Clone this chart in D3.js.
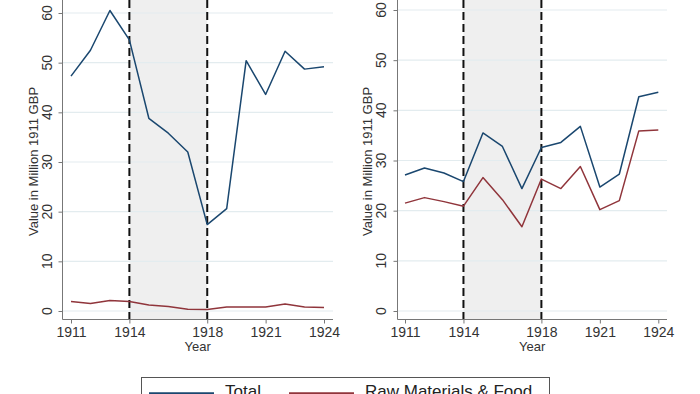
<!DOCTYPE html>
<html>
<head>
<meta charset="utf-8">
<script src="https://cdn.jsdelivr.net/npm/d3@7"></script>
<style>
  body { margin: 0; background: #fff; }
  svg { display: block; font-family: "Liberation Sans", Arial, sans-serif; }
</style>
</head>
<body>
<div id="chart"></div>
<script>
// --- Data ---
const years = [1911, 1912, 1913, 1914, 1915, 1916, 1917, 1918, 1919, 1920, 1921, 1922, 1923, 1924];
const leftTotal = [47.3, 52.5, 60.5, 54.6, 38.8, 35.8, 32.0, 17.4, 20.6, 50.4, 43.6, 52.3, 48.7, 49.2];
const leftRaw = [1.9, 1.5, 2.1, 1.9, 1.2, 0.9, 0.35, 0.3, 0.8, 0.8, 0.8, 1.4, 0.8, 0.7];
const rightTotal = [27.1, 28.5, 27.5, 25.8, 35.5, 32.8, 24.4, 32.6, 33.6, 36.8, 24.7, 27.3, 42.7, 43.6];
const rightRaw = [21.5, 22.6, 21.8, 20.9, 26.6, 22.2, 16.8, 26.3, 24.4, 28.8, 20.2, 22.0, 35.9, 36.1];
const yTicks = [0, 10, 20, 30, 40, 50, 60];
const xTicks = [1911, 1914, 1918, 1921, 1924];
const warPeriod = [1914, 1918];
const seriesNames = ["Total", "Raw Materials & Food"];
const colors = ["#1a476f", "#90353b"];

const width = 700, height = 394;

const svg = d3.select("#chart").append("svg")
    .attr("width", width)
    .attr("height", height);

// panel layout
const panels = [
  { axisX: 62.5, x0: 71, x1: 324, right: 333, y0: 311, y60: 13, titleX: 33, tickLabX: 47, total: leftTotal, raw: leftRaw },
  { axisX: 397.5, x0: 405, x1: 658.3, right: 667, y0: 311, y60: 10, titleX: 367, tickLabX: 381, total: rightTotal, raw: rightRaw }
];
const axisY = 319.5;

panels.forEach(p => {
  const x = d3.scaleLinear().domain([1911, 1924]).range([p.x0, p.x1]);
  const y = d3.scaleLinear().domain([0, 60]).range([p.y0, p.y60]);
  const g = svg.append("g");

  // shaded war period
  g.append("rect")
    .attr("x", x(warPeriod[0]))
    .attr("y", 0)
    .attr("width", x(warPeriod[1]) - x(warPeriod[0]))
    .attr("height", axisY)
    .attr("fill", "#efefef");

  // gridlines
  g.selectAll(".grid")
    .data(yTicks)
    .enter()
    .append("line")
    .attr("x1", p.axisX)
    .attr("x2", p.right)
    .attr("y1", d => y(d))
    .attr("y2", d => y(d))
    .attr("stroke", "#e3ecef")
    .attr("stroke-width", 1.2);

  // dashed vertical lines
  g.selectAll(".war")
    .data(warPeriod)
    .enter()
    .append("line")
    .attr("x1", d => x(d))
    .attr("x2", d => x(d))
    .attr("y1", 0)
    .attr("y2", axisY)
    .attr("stroke", "#111")
    .attr("stroke-width", 2)
    .attr("stroke-dasharray", "8,4");

  // series lines
  const line = d3.line().x((d, i) => x(years[i])).y(d => y(d));
  [p.total, p.raw].forEach((vals, k) => {
    g.append("path")
      .datum(vals)
      .attr("d", line)
      .attr("fill", "none")
      .attr("stroke", colors[k])
      .attr("stroke-width", 1.5)
      .attr("stroke-linejoin", "round");
  });

  // y axis
  const yAxis = g.append("g")
    .attr("transform", `translate(${p.axisX},0)`)
    .call(d3.axisLeft(y).tickValues(yTicks).tickSize(4).tickPadding(0).tickFormat(d3.format("d")));
  yAxis.select(".domain").remove();
  yAxis.selectAll(".tick line").attr("stroke", "#777");
  yAxis.selectAll(".tick text").remove();
  yAxis.append("line")
    .attr("x1", 0).attr("x2", 0)
    .attr("y1", 0).attr("y2", axisY)
    .attr("stroke", "#777");

  // rotated y tick labels
  g.selectAll(".ylab")
    .data(yTicks)
    .enter()
    .append("text")
    .attr("transform", d => `translate(${p.tickLabX},${y(d)}) rotate(-90)`)
    .attr("text-anchor", "middle")
    .attr("dy", "0.35em")
    .attr("font-size", "14px")
    .attr("fill", "#333")
    .text(d => d);

  // x axis
  const xAxis = g.append("g")
    .attr("transform", `translate(0,${axisY})`)
    .call(d3.axisBottom(x).tickValues(xTicks).tickSize(4).tickPadding(4).tickFormat(d3.format("d")));
  xAxis.select(".domain").remove();
  xAxis.append("line")
    .attr("x1", p.axisX).attr("x2", p.right)
    .attr("stroke", "#777");
  xAxis.selectAll(".tick line").attr("stroke", "#777");
  xAxis.selectAll(".tick text")
    .attr("font-size", "14px")
    .attr("fill", "#333")
    .attr("font-family", "Liberation Sans, Arial, sans-serif");

  // axis titles
  g.append("text")
    .attr("transform", `translate(${p.titleX},${161.5}) rotate(-90)`)
    .attr("text-anchor", "middle")
    .attr("dy", "0.35em")
    .attr("font-size", "13px")
    .attr("fill", "#333")
    .text("Value in Million 1911 GBP");

  g.append("text")
    .attr("x", (p.axisX + p.right) / 2)
    .attr("y", 351)
    .attr("text-anchor", "middle")
    .attr("font-size", "13px")
    .attr("fill", "#333")
    .text("Year");
});

// --- Legend ---
const legend = svg.append("g");
legend.append("rect")
  .attr("x", 141.5).attr("y", 377.5)
  .attr("width", 408).attr("height", 40)
  .attr("fill", "#fff")
  .attr("stroke", "#555");

const legendItems = [
  { x1: 149, x2: 214, tx: 225 },
  { x1: 289, x2: 354, tx: 365 }
];
legendItems.forEach((it, k) => {
  legend.append("line")
    .attr("x1", it.x1).attr("x2", it.x2)
    .attr("y1", 393.5).attr("y2", 393.5)
    .attr("stroke", colors[k])
    .attr("stroke-width", 2.5);
  legend.append("text")
    .attr("x", it.tx)
    .attr("y", 397)
    .attr("font-size", "17px")
    .attr("fill", "#222")
    .text(seriesNames[k]);
});
</script>
</body>
</html>
